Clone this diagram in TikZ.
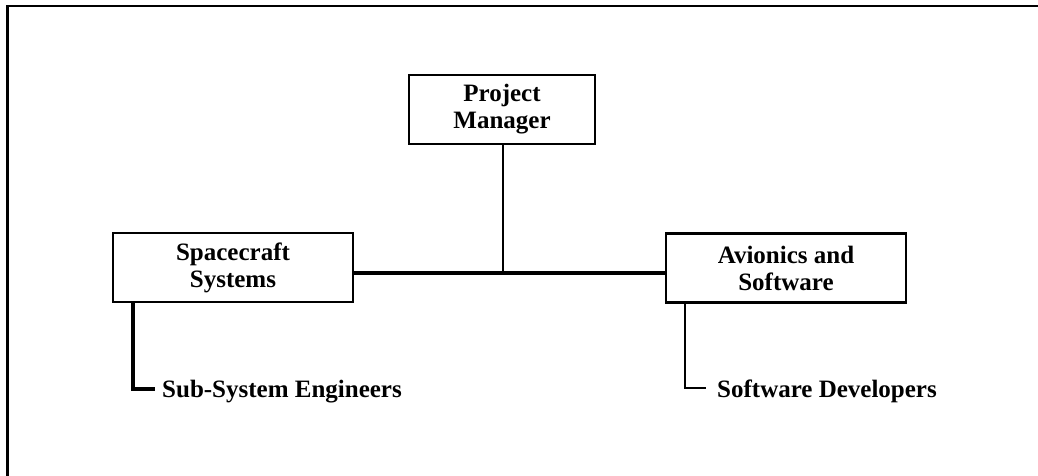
\documentclass[tikz,border=0pt]{standalone}
\usepackage{fontspec}
\setmainfont{Liberation Serif}
\begin{document}
\begin{tikzpicture}[x=1pt,y=-1pt,
  box/.style={draw,line width=2.2pt,rectangle,inner sep=0pt,align=center,
    minimum height=69pt,font=\bfseries\fontsize{25}{27}\selectfont},
  lbl/.style={inner sep=0pt,font=\bfseries\fontsize{25}{27}\selectfont},
  frame/.style={line width=2.5pt},
  link/.style={line width=2pt},
  bar/.style={line width=4pt},
  thicklink/.style={line width=3.3pt},
  thinlink/.style={line width=1.5pt}]
\useasboundingbox (0,0) rectangle (1038,476);
\draw[frame] (7.5,476) -- (7.5,6) -- (1038,6);
\node[box,minimum width=186pt] (pm) at (502,109.5) {Project\\Manager};
\node[box,minimum width=240pt] (sc) at (233,267.5) {Spacecraft\\Systems};
\node[box,minimum width=240pt] (av) at (786,268) {Avionics and\\Software};
\node[lbl,anchor=base west] (sub) at (162,397) {Sub-System Engineers};
\node[lbl,anchor=base west] (dev) at (717,397) {Software Developers};
\coordinate (hb) at (503,273);
\draw[link] (pm.south -| hb) -- (hb);
\draw[bar] (sc.east |- hb) -- (av.west |- hb);
\draw[thicklink] ([xshift=-100pt]sc.south) |- ([xshift=-7pt,yshift=8pt]sub.base west);
\draw[thinlink] ([xshift=-101pt]av.south) |- ([xshift=-11pt,yshift=9pt]dev.base west);
\end{tikzpicture}
\end{document}
